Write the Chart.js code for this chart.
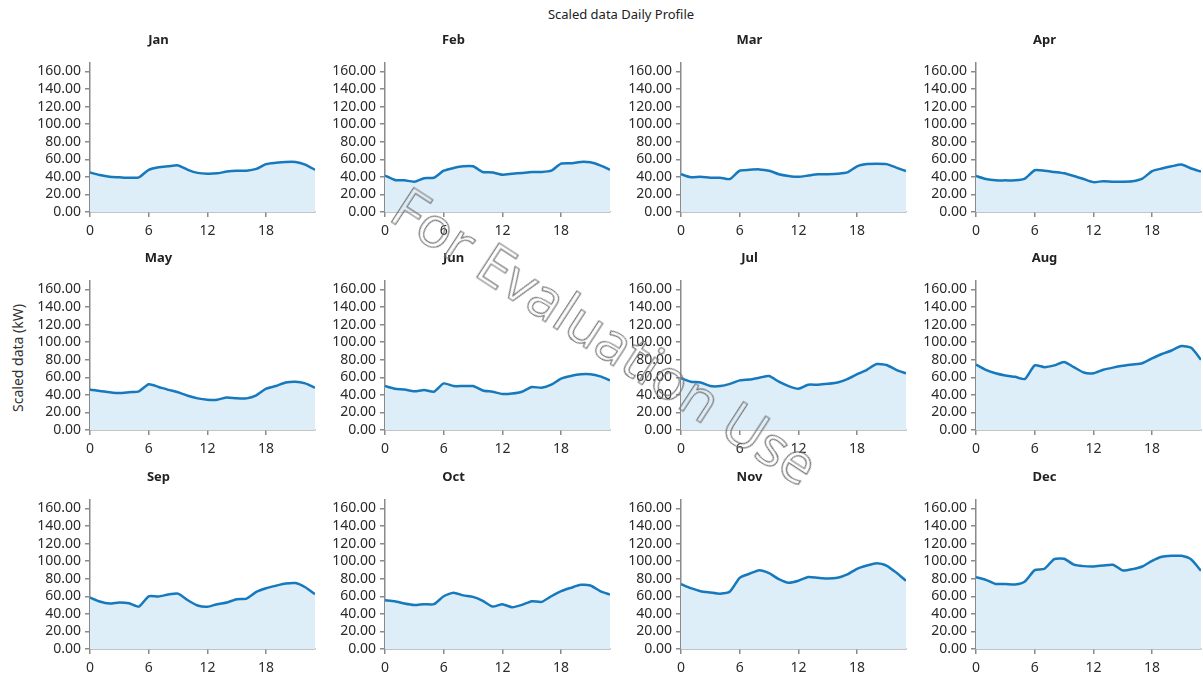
<!DOCTYPE html>
<html>
<head>
<meta charset="utf-8">
<script src="https://cdn.jsdelivr.net/npm/chart.js@4.4.1/dist/chart.umd.min.js"></script>
<style>
  html, body { margin: 0; padding: 0; background: #fff; overflow: hidden; width: 1203px; height: 677px; }
  body { position: relative; font-family: 'Segoe UI', 'Noto Sans', sans-serif; color: #222; }
  .panel { position: absolute; width: 352px; height: 208px; }
  #mainTitle { position: absolute; top: 5px; left: 0; width: 1242px; text-align: center; font-size: 13px; }
  #yTitle { position: absolute; left: 17px; top: 358px; transform: translate(-50%, -50%) rotate(-90deg);
            white-space: nowrap; font-size: 14px; color: #333; }
  #stamp { position: absolute; left: 606px; top: 335px; transform: translate(-50%, -50%) rotate(33deg);
           white-space: nowrap; font-family: 'Open Sans', sans-serif; font-size: 57px; color: transparent;
           -webkit-text-stroke: 1.2px #777; pointer-events: none; z-index: 10; }
</style>
</head>
<body>
<div id="mainTitle">Scaled data Daily Profile</div>
<div id="yTitle">Scaled data (kW)</div>
<div id="charts"></div>
<div id="stamp">For Evaluation Use</div>

<script>
// hours of the day and axis ticks
const hours  = [0, 1, 2, 3, 4, 5, 6, 7, 8, 9, 10, 11, 12, 13, 14, 15, 16, 17, 18, 19, 20, 21, 22, 23];
const xTicks = [0, 6, 12, 18];
const yTicks = [0, 20, 40, 60, 80, 100, 120, 140, 160];
const months = ['Jan', 'Feb', 'Mar', 'Apr', 'May', 'Jun', 'Jul', 'Aug', 'Sep', 'Oct', 'Nov', 'Dec'];

// scaled data (kW) per hour
const jan = [45, 42, 40, 39.5, 39, 39.5, 48, 51, 52, 53, 48, 44.5, 43.5, 44, 46, 47, 47, 49, 54.5, 56, 57, 57, 54, 48];
const feb = [41.5, 36.5, 36, 34.5, 38.5, 39, 47, 50, 52, 52, 45.5, 45, 42.5, 43.5, 44.5, 45.5, 45.5, 47, 55, 55.5, 57, 56.5, 53, 48];
const mar = [43, 39.5, 40, 39, 39, 37.5, 47, 48, 48.5, 47, 43, 41, 40, 41.5, 43, 43, 43.5, 45, 52, 54.5, 55, 54.5, 50.5, 46.5];
const apr = [41, 37.5, 36, 36, 36, 38, 47.5, 47, 45.5, 44, 41, 37.5, 34, 35, 34.5, 34.5, 35, 38, 46.5, 49.5, 52, 54, 49.5, 46];
const may = [45.7, 44.5, 43, 42, 43, 44, 52, 49, 45.7, 43, 39, 36, 34.5, 34.5, 37, 36, 36, 39.5, 47, 50, 54, 55, 53, 48];
const jun = [50, 47, 46, 44, 45.5, 43.5, 53, 50, 50, 50, 45, 43.5, 41, 41.5, 43.5, 49, 48, 51.5, 58.5, 61.5, 63.5, 63.5, 61, 56.5];
const jul = [59, 55, 54, 50, 50, 52.5, 56.5, 57.5, 59.5, 61.5, 55, 50, 47, 51.5, 51.5, 52.5, 54, 58, 63.5, 68.5, 75, 74, 68.5, 64.5];
const aug = [74.5, 68.5, 64.5, 62, 60.5, 58, 73.5, 71.5, 73.5, 77.5, 71.5, 65.5, 64.5, 68.5, 71, 73, 74.5, 76, 81.5, 86.5, 90.5, 95.5, 93.5, 80];
const sep = [58.5, 54, 51.7, 53, 52, 48.3, 60, 59.7, 62, 63, 55.5, 49.5, 48, 51, 53, 56.7, 57.4, 65, 69.2, 72, 74.5, 75, 70.3, 62.4];
const oct = [55.5, 54.4, 51.7, 50, 51, 51, 60, 64, 61, 59.3, 54.8, 48.3, 51, 47.5, 50.2, 54.4, 53.6, 60, 65.8, 69.6, 73, 72.2, 65.8, 62];
const nov = [73.8, 69.2, 65.8, 64.3, 63, 65.4, 81, 85.6, 89.7, 86.3, 79.5, 75.3, 77.6, 82, 81, 80.2, 81, 84.8, 91.3, 95, 97.7, 95, 87, 77.6];
const dec = [81.7, 78.7, 74, 74, 73.4, 76.8, 89.7, 91.3, 102.3, 102.7, 96, 94.3, 93.9, 95, 95.8, 89.4, 90.9, 93.9, 100.4, 105, 106, 106, 101.9, 89];
const series = [jan, feb, mar, apr, may, jun, jul, aug, sep, oct, nov, dec];

const lineColor = '#1679bd';
const fillColor = '#ddeef8';
const axisColor = '#8a8a8a';
const tickColor = '#2b2b2b';
const fontFamily = "'Segoe UI', 'Noto Sans', sans-serif";

const holder = document.getElementById('charts');

months.forEach((name, i) => {
  const col = i % 4, row = Math.floor(i / 4);
  const box = document.createElement('div');
  box.className = 'panel';
  box.style.left = (90 + 295.3 * col - 88) + 'px';
  box.style.top  = (30 + 218.3 * row) + 'px';
  const cv = document.createElement('canvas');
  cv.width = 352; cv.height = 208;
  box.appendChild(cv);
  holder.appendChild(box);

  new Chart(cv.getContext('2d'), {
    type: 'line',
    data: {
      labels: hours,
      datasets: [{
        data: series[i],
        borderColor: lineColor,
        backgroundColor: fillColor,
        fill: 'origin',
        borderWidth: 2.5,
        pointRadius: 0,
        tension: 0.2
      }]
    },
    options: {
      responsive: false, animation: false,
      layout: { padding: { left: 0, right: 39, top: 0, bottom: 0 } },
      plugins: {
        legend: { display: false },
        tooltip: { enabled: false },
        title: {
          display: true, text: name, color: '#222',
          font: { family: fontFamily, size: 13, weight: 'bold' },
          padding: { top: 2, bottom: 15 }
        }
      },
      scales: {
        x: {
          type: 'linear', min: 0, max: 23,
          afterBuildTicks: s => { s.ticks = xTicks.map(v => ({ value: v })); },
          afterFit: s => { s.height = 26; },
          ticks: { color: tickColor, font: { family: fontFamily, size: 14 }, padding: 6, maxRotation: 0, autoSkip: false },
          grid: { drawOnChartArea: false, tickLength: 5, color: axisColor, lineWidth: 1.5 },
          border: { color: axisColor, width: 1.5 }
        },
        y: {
          min: 0, max: 170,
          afterBuildTicks: s => { s.ticks = yTicks.map(v => ({ value: v })); },
          afterFit: s => { s.width = 88; },
          ticks: { color: tickColor, font: { family: fontFamily, size: 14, lineHeight: 1 }, padding: 4,
                   autoSkip: false, callback: v => v.toFixed(2) },
          grid: { drawOnChartArea: false, tickLength: 5, color: axisColor, lineWidth: 1.5 },
          border: { color: axisColor, width: 1.5 }
        }
      }
    }
  });
});
</script>
</body>
</html>
